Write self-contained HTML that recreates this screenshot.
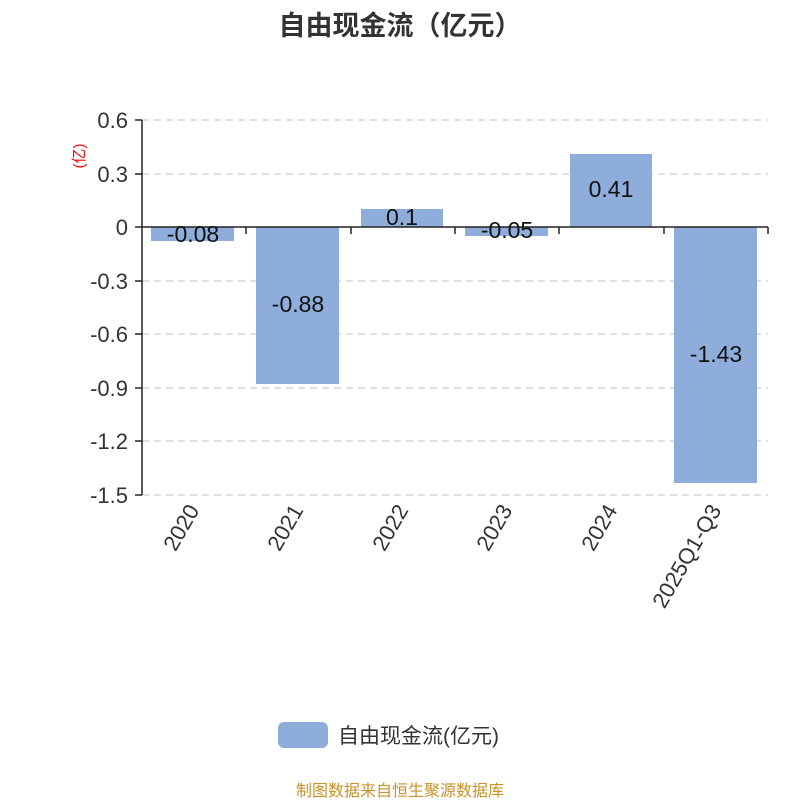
<!DOCTYPE html>
<html><head><meta charset="utf-8"><style>body{margin:0;background:#fff}</style></head><body>
<svg width="800" height="800" xmlns="http://www.w3.org/2000/svg" font-family="Liberation Sans, Noto Sans CJK SC, sans-serif">
<text x="400" y="35" text-anchor="middle" font-size="27" font-weight="bold" fill="#333">自由现金流（亿元）</text>
<g stroke="#ccc" stroke-dasharray="7,5" stroke-width="1.3">
<line x1="142" x2="768" y1="120" y2="120"/><line x1="142" x2="768" y1="174" y2="174"/>
<line x1="142" x2="768" y1="281" y2="281"/><line x1="142" x2="768" y1="334" y2="334"/>
<line x1="142" x2="768" y1="388" y2="388"/><line x1="142" x2="768" y1="441" y2="441"/>
<line x1="142" x2="768" y1="495" y2="495"/>
</g>
<g fill="#8eaddb">
<rect x="151" y="227" width="83" height="14"/>
<rect x="256" y="227" width="83" height="157"/>
<rect x="361" y="209" width="82" height="18"/>
<rect x="465" y="227" width="83" height="9"/>
<rect x="570" y="154" width="82" height="73"/>
<rect x="674" y="227" width="83" height="256"/>
</g>
<g stroke="#222" stroke-width="1.5">
<line x1="142" y1="120" x2="142" y2="495"/>
<line x1="142" y1="227" x2="768" y2="227"/>
<line x1="135" x2="142" y1="120" y2="120"/><line x1="135" x2="142" y1="174" y2="174"/>
<line x1="135" x2="142" y1="227" y2="227"/><line x1="135" x2="142" y1="281" y2="281"/>
<line x1="135" x2="142" y1="334" y2="334"/><line x1="135" x2="142" y1="388" y2="388"/>
<line x1="135" x2="142" y1="441" y2="441"/><line x1="135" x2="142" y1="495" y2="495"/>
<line x1="246" x2="246" y1="227" y2="234"/><line x1="351" x2="351" y1="227" y2="234"/>
<line x1="455" x2="455" y1="227" y2="234"/><line x1="559" x2="559" y1="227" y2="234"/>
<line x1="664" x2="664" y1="227" y2="234"/><line x1="768" x2="768" y1="227" y2="234"/>
</g>
<g font-size="22" fill="#333" text-anchor="end">
<text x="128" y="128">0.6</text><text x="128" y="182">0.3</text><text x="128" y="235">0</text>
<text x="128" y="289">-0.3</text><text x="128" y="342">-0.6</text><text x="128" y="396">-0.9</text>
<text x="128" y="449">-1.2</text><text x="128" y="503">-1.5</text>
</g>
<text transform="translate(84,156) rotate(-90)" text-anchor="middle" font-size="15" fill="red">(亿)</text>
<g font-size="23" fill="#111" text-anchor="middle">
<text x="193" y="242">-0.08</text><text x="298" y="312">-0.88</text><text x="402" y="225">0.1</text>
<text x="507" y="238">-0.05</text><text x="611" y="197">0.41</text><text x="716" y="362">-1.43</text>
</g>
<g font-size="22" fill="#333" text-anchor="end">
<text transform="translate(200,510) rotate(-60)">2020</text>
<text transform="translate(304,510) rotate(-60)">2021</text>
<text transform="translate(409,510) rotate(-60)">2022</text>
<text transform="translate(513,510) rotate(-60)">2023</text>
<text transform="translate(618,510) rotate(-60)">2024</text>
<text transform="translate(722,510) rotate(-60)">2025Q1-Q3</text>
</g>
<rect x="278" y="722" width="50" height="26" rx="6" fill="#8eaddb"/>
<text x="338" y="743" font-size="21" fill="#333">自由现金流(亿元)</text>
<text x="400" y="796" text-anchor="middle" font-size="16" fill="#c8922a">制图数据来自恒生聚源数据库</text>
</svg>
</body></html>
